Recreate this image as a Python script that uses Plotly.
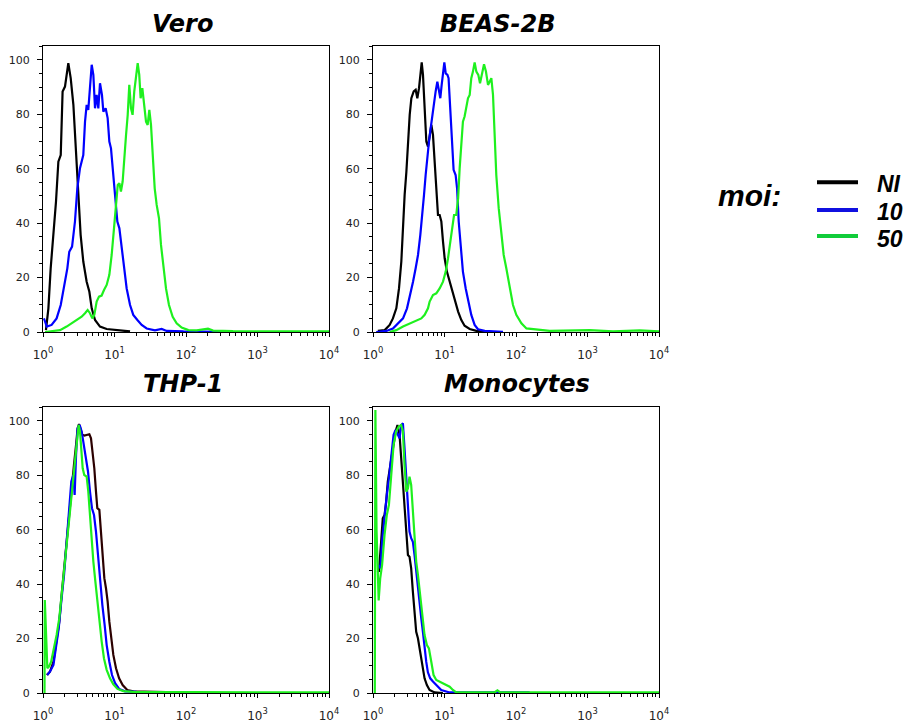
import plotly.graph_objects as go

W, H = 907, 726

# ---------------- data (fluorescence intensity, % of max) ----------------
# Vero
vero_ni_x = [1.10, 1.19, 1.28, 1.40, 1.52, 1.64, 1.77, 1.88, 2.03, 2.26, 2.44, 2.66, 2.83, 3.06, 3.36, 3.66, 4.08, 4.45, 4.80, 5.34, 6.27, 7.77, 10.7, 16.5]
vero_ni_y = [0.7, 8.7, 23.4, 35.7, 47.9, 62.6, 65.0, 88.4, 90.2, 98.8, 93.3, 83.5, 70.0, 52.8, 35.7, 25.9, 18.5, 14.8, 8.7, 4.4, 2.0, 1.1, 0.6, 0.2]
vero_10_x = [1.03, 1.13, 1.32, 1.55, 1.77, 1.97, 2.19, 2.33, 2.55, 2.80, 3.02, 3.29, 3.66, 3.87, 4.08, 4.30, 4.54, 4.80, 5.06, 5.34, 5.63, 5.94, 6.27, 6.68, 6.98, 7.52, 8.02, 8.47, 8.93, 9.42, 9.84, 10.3, 10.96, 11.7, 12.6, 13.6, 14.8, 16.5, 18.3, 20.9, 24.0, 28.2, 36.8, 45.7, 53.6, 92, 310]
vero_10_y = [5.0, 2.0, 2.6, 5.0, 9.9, 16.0, 23.4, 29.5, 31.4, 40.6, 52.8, 60.2, 65.0, 77.3, 83.5, 81.6, 89.6, 98.2, 94.5, 82.2, 87.1, 82.2, 91.4, 87.1, 81.0, 82.2, 78.6, 70.0, 67.5, 60.2, 54.0, 50.4, 40.6, 38.1, 30.8, 23.4, 16.0, 9.9, 6.3, 4.4, 2.6, 1.3, 0.6, 1.1, 0.4, 0.2, 0.1]
vero_50_x = [1.07, 1.73, 2.14, 2.52, 2.96, 3.47, 3.87, 4.21, 4.54, 4.90, 5.22, 5.63, 6.07, 6.61, 7.13, 7.77, 8.47, 9.13, 9.84, 10.5, 11.1, 11.7, 12.3, 13.0, 13.7, 14.5, 15.3, 16.1, 17.0, 17.9, 18.9, 20.0, 21.1, 22.2, 23.2, 24.5, 25.9, 27.6, 29.1, 30.7, 32.4, 34.2, 36.5, 38.9, 41.9, 44.7, 48.2, 52.5, 57.8, 65.1, 74, 86.9, 108, 141, 203, 239, 454, 10000]
vero_50_y = [0.0, 0.7, 2.0, 3.2, 4.4, 5.6, 6.9, 8.1, 6.9, 5.0, 6.3, 11.2, 13.0, 13.4, 15.4, 17.3, 21.0, 28.3, 38.1, 47.9, 54.0, 54.7, 51.6, 55.3, 65.0, 72.4, 79.8, 90.8, 82.2, 79.8, 88.4, 94.5, 98.8, 94.5, 85.9, 89.6, 83.5, 77.3, 76.1, 81.6, 76.1, 65.0, 52.8, 46.7, 41.8, 32.0, 24.6, 16.0, 9.9, 5.6, 3.2, 1.6, 0.7, 0.6, 1.2, 0.5, 0.3, 0.2]

# BEAS-2B
beas_ni_x = [1.17, 1.46, 1.71, 1.90, 2.12, 2.31, 2.49, 2.63, 2.77, 2.93, 3.09, 3.26, 3.44, 3.71, 3.95, 4.17, 4.40, 4.59, 4.80, 5.00, 5.28, 5.57, 5.88, 6.20, 6.55, 6.90, 7.28, 7.69, 8.11, 8.55, 9.03, 9.53, 10.05, 10.8, 11.8, 12.9, 14.0, 15.5, 17.2, 19.1, 22.5, 27.9, 38.5]
beas_ni_y = [0.4, 0.7, 2.6, 5.0, 8.7, 16.0, 25.9, 40.6, 50.4, 58.9, 71.2, 79.8, 85.9, 88.4, 89.0, 85.9, 89.6, 95.7, 99.1, 94.5, 81.0, 70.0, 68.1, 72.4, 76.1, 72.4, 62.6, 50.4, 43.0, 43.0, 40.6, 33.2, 27.1, 22.2, 18.5, 14.8, 11.2, 7.5, 4.4, 2.3, 1.1, 0.4, 0.1]
beas_10_x = [1.11, 1.54, 1.90, 2.24, 2.63, 2.99, 3.33, 3.63, 3.95, 4.26, 4.59, 4.90, 5.17, 5.45, 5.75, 6.07, 6.41, 6.76, 7.13, 7.52, 7.94, 8.29, 8.74, 9.13, 9.53, 9.95, 10.4, 11.0, 11.4, 11.8, 12.3, 12.9, 13.4, 14.3, 15.0, 15.8, 16.8, 18.1, 19.8, 21.5, 23.7, 26.4, 29.4, 36.5, 65.8]
beas_10_y = [0.0, 0.4, 1.3, 3.2, 5.0, 8.7, 13.6, 18.5, 23.4, 28.3, 35.7, 43.0, 50.4, 57.7, 65.0, 70.0, 74.9, 79.8, 84.7, 88.4, 92.0, 88.4, 85.9, 90.8, 95.7, 99.1, 95.0, 94.5, 93.3, 85.9, 74.9, 62.6, 59.6, 57.7, 52.8, 40.6, 30.8, 22.2, 16.0, 11.2, 6.3, 2.6, 1.0, 0.4, 0.1]
beas_50_x = [1.71, 2.12, 2.63, 3.26, 4.04, 4.74, 5.28, 5.88, 6.20, 6.90, 7.69, 8.55, 9.53, 10.4, 11.2, 12.1, 12.9, 13.6, 14.6, 15.5, 16.3, 17.2, 18.1, 19.1, 20.2, 21.3, 22.5, 23.7, 25.0, 26.4, 27.9, 29.7, 31.4, 33.4, 35.7, 38.0, 40.6, 42.8, 45.2, 47.7, 50.3, 53.0, 57.3, 62.4, 67.3, 73.2, 81.5, 90.8, 101, 119, 140, 214, 296, 1072, 2275, 5370, 10000]
beas_50_y = [0.0, 0.7, 2.0, 3.2, 4.2, 5.0, 6.3, 8.7, 11.2, 13.6, 14.2, 16.0, 18.5, 22.2, 27.1, 33.2, 39.3, 43.0, 43.0, 49.1, 60.2, 70.0, 77.3, 79.2, 82.2, 85.9, 87.1, 93.3, 95.7, 99.1, 95.7, 94.5, 91.4, 94.5, 98.4, 95.7, 90.8, 92.0, 93.3, 87.1, 71.2, 57.7, 45.5, 35.7, 28.3, 23.4, 16.0, 9.9, 6.3, 3.2, 1.3, 0.9, 0.4, 0.7, 0.2, 0.6, 0.2]

# THP-1
thp_ni_x = [1.13, 1.25, 1.40, 1.55, 1.69, 1.82, 1.97, 2.14, 2.33, 2.52, 2.71, 2.90, 3.05, 3.19, 3.36, 3.55, 3.78, 4.08, 4.45, 4.69, 4.95, 5.22, 5.51, 5.75, 6.14, 6.47, 6.83, 7.21, 7.60, 8.02, 8.47, 8.93, 9.63, 10.5, 11.6, 13.0, 15.1, 18.3, 25.3, 31, 53]
thp_ni_y = [6.6, 7.8, 11.5, 18.9, 26.2, 36.0, 45.8, 56.9, 66.7, 75.2, 83.8, 91.2, 97.3, 98.8, 96.7, 94.9, 94.6, 94.9, 95.1, 93.6, 88.7, 82.6, 74.0, 67.9, 67.3, 58.1, 49.5, 42.2, 38.5, 33.6, 26.2, 20.1, 14.0, 9.1, 5.4, 2.9, 1.1, 0.6, 0.5, 0.4, 0.3]
thp_10_x = [1.15, 1.25, 1.40, 1.52, 1.66, 1.80, 1.97, 2.14, 2.33, 2.49, 2.66, 2.77, 2.90, 3.05, 3.26, 3.47, 3.66, 3.95, 4.26, 4.54, 4.84, 5.17, 5.51, 5.88, 6.27, 6.76, 7.28, 7.77, 8.47, 9.23, 10.2, 11.6, 14.0, 20.4]
thp_10_y = [6.6, 7.8, 10.3, 16.4, 23.8, 33.6, 43.4, 55.6, 66.7, 77.7, 80.1, 72.8, 87.5, 97.3, 98.5, 96.1, 92.4, 87.5, 81.4, 74.0, 67.9, 65.4, 59.3, 50.7, 40.9, 32.4, 25.0, 17.6, 11.5, 6.6, 3.6, 1.5, 0.6, 0.4]
thp_50_x = [1.05, 1.06, 1.15, 1.21, 1.30, 1.42, 1.55, 1.69, 1.82, 1.97, 2.14, 2.33, 2.52, 2.71, 2.90, 3.02, 3.15, 3.29, 3.44, 3.59, 3.78, 4.08, 4.30, 4.54, 4.80, 5.06, 5.40, 5.75, 6.14, 6.62, 7.13, 7.77, 8.65, 9.63, 11.0, 13.3, 18.3, 10000]
thp_50_y = [0.0, 34.2, 9.1, 9.7, 11.5, 16.4, 21.3, 27.5, 36.0, 44.6, 55.6, 65.4, 75.2, 82.6, 90.0, 96.1, 98.5, 96.1, 90.0, 82.6, 80.1, 79.5, 74.0, 65.4, 55.6, 48.3, 40.9, 33.6, 26.2, 18.9, 12.7, 8.5, 5.4, 3.2, 1.5, 0.7, 0.4, 0.2]

# Monocytes
mono_ni_x = [1.15, 1.21, 1.30, 1.37, 1.45, 1.53, 1.61, 1.74, 1.90, 2.07, 2.20, 2.35, 2.48, 2.62, 2.76, 2.92, 3.08, 3.24, 3.42, 3.61, 3.81, 4.02, 4.25, 4.48, 4.73, 4.99, 5.26, 5.67, 6.18, 7.27, 9.5]
mono_ni_y = [45.0, 44.6, 55.6, 64.2, 65.4, 70.3, 77.7, 83.8, 91.2, 96.1, 98.5, 94.9, 86.3, 77.7, 67.9, 58.1, 50.7, 50.1, 45.8, 37.3, 28.7, 22.5, 20.1, 16.4, 14.0, 9.1, 5.4, 2.9, 1.1, 0.2, 0.0]
mono_10_x = [1.21, 1.27, 1.34, 1.45, 1.56, 1.67, 1.80, 1.94, 2.07, 2.23, 2.35, 2.48, 2.62, 2.76, 2.92, 3.08, 3.24, 3.42, 3.61, 3.81, 4.02, 4.25, 4.48, 4.73, 4.99, 5.26, 5.55, 5.86, 6.31, 6.89, 7.67, 9.01, 11.8, 155]
mono_10_y = [47.1, 45.8, 55.6, 65.4, 72.8, 78.9, 87.5, 94.9, 96.7, 94.9, 93.6, 98.5, 99.1, 90.0, 77.7, 66.7, 59.3, 56.9, 55.6, 50.7, 44.6, 37.3, 32.4, 27.5, 22.5, 16.4, 11.5, 7.6, 5.4, 4.2, 2.9, 1.1, 0.2, 0.2]
mono_50_x = [1.06, 1.08, 1.12, 1.20, 1.26, 1.34, 1.45, 1.56, 1.67, 1.80, 1.94, 2.11, 2.30, 2.48, 2.62, 2.76, 2.92, 3.08, 3.24, 3.42, 3.61, 3.81, 4.02, 4.25, 4.48, 4.73, 4.99, 5.26, 5.67, 6.05, 6.53, 7.03, 7.67, 8.54, 9.5, 10.6, 11.8, 13.1, 14.6, 50, 55, 60, 10000]
mono_50_y = [0.0, 104.0, 60.0, 34.0, 42.0, 47.1, 58.1, 65.4, 69.1, 80.1, 91.2, 96.1, 97.9, 98.5, 96.1, 83.8, 74.0, 75.2, 79.5, 76.5, 65.4, 54.4, 48.3, 43.4, 37.3, 31.1, 25.0, 21.3, 17.6, 16.4, 11.5, 6.6, 4.8, 4.2, 3.6, 3.2, 2.3, 1.1, 0.2, 0.2, 1.0, 0.2, 0.2]

panel_titles = ["Vero", "BEAS-2B", "THP-1", "Monocytes"]
series_names = ["NI", "10", "50"]
x_tickvals = [1, 10, 100, 1000, 10000]
x_ticktext = ["10<sup>0</sup>", "10<sup>1</sup>", "10<sup>2</sup>", "10<sup>3</sup>", "10<sup>4</sup>"]
y_tickvals = [0, 20, 40, 60, 80, 100]

panels = [
    [(vero_ni_x, vero_ni_y), (vero_10_x, vero_10_y), (vero_50_x, vero_50_y)],
    [(beas_ni_x, beas_ni_y), (beas_10_x, beas_10_y), (beas_50_x, beas_50_y)],
    [(thp_ni_x, thp_ni_y), (thp_10_x, thp_10_y), (thp_50_x, thp_50_y)],
    [(mono_ni_x, mono_ni_y), (mono_10_x, mono_10_y), (mono_50_x, mono_50_y)],
]

# ---------------- styling ----------------
curve_colors = [["#000000", "#0000ff", "#1ef01e"],
                ["#000000", "#0000ff", "#1ef01e"],
                ["#2b0000", "#0000ff", "#1ef01e"],
                ["#000000", "#0000ff", "#1ef01e"]]
legend_colors = ["#000000", "#1010e0", "#11cc3a"]

def px_x(x):
    return x / W

def px_y(y):
    return 1 - y / H

# panel boxes in pixels: (left, right, top, bottom)
boxes = [(43, 329, 46, 332), (373, 659, 46, 332), (43, 329, 407, 693), (373, 659, 407, 693)]

minor_x = [m * 10 ** e for e in range(4) for m in range(2, 10)]

fig = go.Figure()
layout = dict(width=W, height=H, autosize=False,
              margin=dict(l=0, r=0, t=0, b=0, pad=0, autoexpand=False),
              paper_bgcolor="white", plot_bgcolor="white", showlegend=False)

ytick_font = dict(family="DejaVu Sans", size=11, color="#222222")
xtick_font = dict(family="DejaVu Sans", size=12, color="#222222")

for i, (panel, box) in enumerate(zip(panels, boxes)):
    n = "" if i == 0 else str(i + 1)
    l, r, t, b = box
    layout["xaxis" + n] = dict(
        type="log", range=[0, 4], domain=[px_x(l), px_x(r)], anchor="y" + n,
        tickmode="array", tickvals=x_tickvals, ticktext=x_ticktext,
        ticks="outside", ticklen=4, tickwidth=1, tickcolor="black",
        showline=True, linecolor="black", linewidth=1.2, mirror=True,
        showgrid=False, zeroline=False, tickfont=xtick_font, ticklabelstandoff=7,
        automargin=False,
        minor=dict(tickmode="array", tickvals=minor_x, ticks="outside", ticklen=2.5,
                   tickwidth=1, tickcolor="black", showgrid=False),
        fixedrange=True)
    layout["yaxis" + n] = dict(
        range=[0, 105.1], domain=[px_y(b), px_y(t)], anchor="x" + n,
        tickmode="array", tickvals=y_tickvals,
        ticks="outside", ticklen=5, tickwidth=1, tickcolor="black",
        showline=True, linecolor="black", linewidth=1.2, mirror=True,
        showgrid=False, zeroline=False, tickfont=ytick_font, ticklabelstandoff=5,
        automargin=False,
        minor=dict(dtick=5, ticks="outside", ticklen=2.5, tickwidth=1,
                   tickcolor="black", showgrid=False),
        fixedrange=True)
    for j, (xs, ys) in enumerate(panel):
        fig.add_trace(go.Scatter(
            x=xs, y=ys, mode="lines", name=series_names[j],
            line=dict(color=curve_colors[i][j], width=2.2),
            xaxis="x" + n, yaxis="y" + n, hoverinfo="skip"))

# panel titles
title_pos = [(182, 23.5), (498, 23.5), (183, 383.5), (517, 383.5)]
annotations = []
for txt, (tx, ty) in zip(panel_titles, title_pos):
    annotations.append(dict(
        text=txt, x=px_x(tx), y=px_y(ty), xref="paper", yref="paper",
        xanchor="center", yanchor="middle", showarrow=False,
        font=dict(family="DejaVu Sans", size=24, color="black", weight="bold", style="italic")))

# legend ("moi:" and entries)
annotations.append(dict(
    text="moi:", x=px_x(716), y=px_y(195.5), xref="paper", yref="paper",
    xanchor="left", yanchor="middle", showarrow=False,
    font=dict(family="Liberation Sans", size=30, color="black", weight="bold", style="italic")))
legend_line_y = [182.3, 210, 236]
legend_text_y = [183.8, 212, 239]
shapes = []
for name, col, ly, ty in zip(series_names, legend_colors, legend_line_y, legend_text_y):
    shapes.append(dict(type="line", xref="paper", yref="paper",
                       x0=px_x(817), x1=px_x(858), y0=px_y(ly), y1=px_y(ly),
                       line=dict(color=col, width=4)))
    annotations.append(dict(
        text=name, x=px_x(875), y=px_y(ty), xref="paper", yref="paper",
        xanchor="left", yanchor="middle", showarrow=False,
        font=dict(family="Liberation Sans", size=23, color="black", weight="bold", style="italic")))

layout["annotations"] = annotations
layout["shapes"] = shapes
fig.update_layout(**layout)

fig.write_html("out.html", config={"displayModeBar": False},
               post_script="document.body.style.margin='0';document.body.style.overflow='hidden';")
